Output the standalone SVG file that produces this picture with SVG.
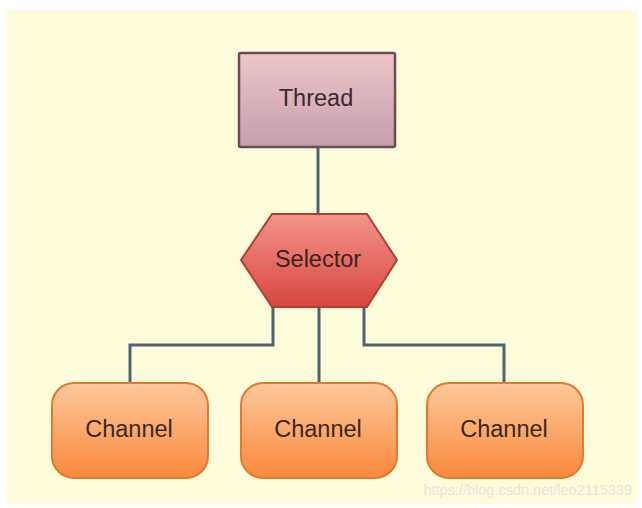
<svg xmlns="http://www.w3.org/2000/svg" width="642" height="508" viewBox="0 0 642 508">
  <defs>
    <linearGradient id="gThread" x1="0" y1="0" x2="0" y2="1">
      <stop offset="0" stop-color="#ecc6c8"/>
      <stop offset="1" stop-color="#c69eae"/>
    </linearGradient>
    <linearGradient id="gSel" x1="0" y1="0" x2="0" y2="1">
      <stop offset="0" stop-color="#f3948a"/>
      <stop offset="1" stop-color="#d8463e"/>
    </linearGradient>
    <linearGradient id="gChan" x1="0" y1="0" x2="0" y2="1">
      <stop offset="0" stop-color="#fec89c"/>
      <stop offset="1" stop-color="#f8893c"/>
    </linearGradient>
  </defs>
  <style>
    .lbl { font-family: "Liberation Sans", Arial, sans-serif; font-size: 23.5px; text-anchor: middle; dominant-baseline: central; }
    .conn { fill: none; stroke: #4c6472; stroke-width: 3; }
    .chan { fill: url(#gChan); stroke: #e5782a; stroke-width: 2; }
  </style>
  <rect x="0" y="0" width="642" height="508" fill="#ffffff"/>
  <rect x="6" y="10" width="631" height="494" fill="#fffcdb"/>

  <g id="connectors">
    <line class="conn" x1="318" y1="147" x2="318" y2="214"/>
    <polyline class="conn" points="273,307 273,345 130,345 130,384"/>
    <line class="conn" x1="319" y1="307" x2="319" y2="384"/>
    <polyline class="conn" points="364,307 364,345 504,345 504,384"/>
  </g>

  <g id="thread">
    <rect x="239" y="53" width="156" height="94" rx="2" fill="url(#gThread)" stroke="#6b4a5c" stroke-width="2.5"/>
    <text class="lbl" x="316" y="98" fill="#3a2a32">Thread</text>
  </g>

  <g id="selector">
    <polygon points="272,214 367,214 397,260 367,307 272,307 241,260" fill="url(#gSel)" stroke="#b03e34" stroke-width="2"/>
    <text class="lbl" x="318" y="259" fill="#3a2424">Selector</text>
  </g>

  <g id="channel1">
    <rect class="chan" x="52" y="383" width="156" height="95" rx="22"/>
    <text class="lbl" x="129" y="429" fill="#3a2a1e">Channel</text>
  </g>
  <g id="channel2">
    <rect class="chan" x="241" y="383" width="156" height="95" rx="22"/>
    <text class="lbl" x="318" y="429" fill="#3a2a1e">Channel</text>
  </g>
  <g id="channel3">
    <rect class="chan" x="427" y="383" width="156" height="95" rx="22"/>
    <text class="lbl" x="504" y="429" fill="#3a2a1e">Channel</text>
  </g>

  <text x="632" y="495" font-family="Liberation Sans, Arial, sans-serif" font-size="14.5" text-anchor="end" fill="#e6e4dc">https://blog.csdn.net/leo2115339</text>
</svg>
